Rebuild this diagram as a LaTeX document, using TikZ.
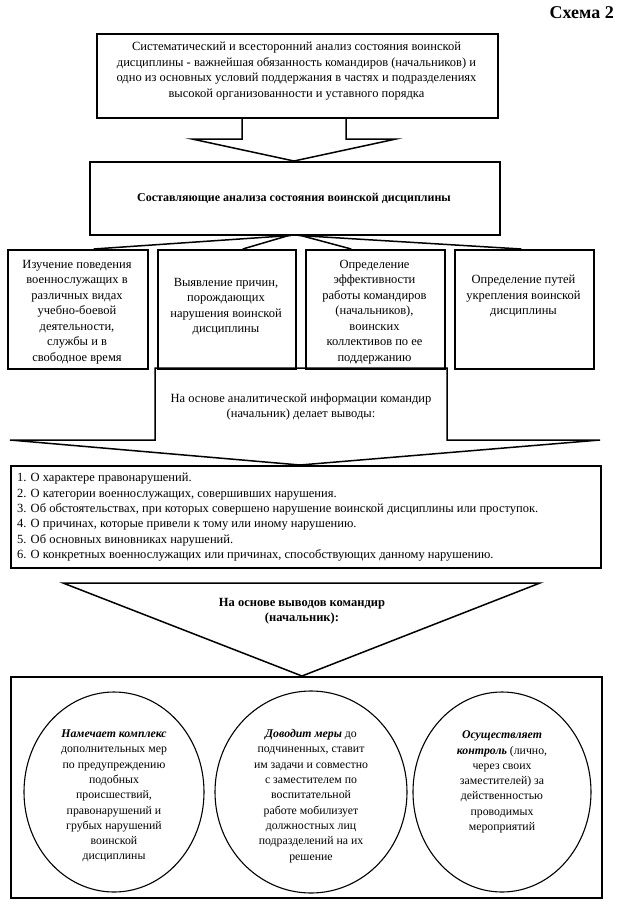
\documentclass[tikz,border=0pt]{standalone}
\usepackage{fontspec}
\setmainfont{Liberation Serif}
\usetikzlibrary{shapes.geometric}
\begin{document}
\begin{tikzpicture}[x=1pt,y=-1pt,
  ln/.style={draw, line width=1.5pt},
  boxnode/.style={ln, rectangle, inner sep=0pt, anchor=north west},
  txt/.style={inner sep=0pt, align=center, font=\fontsize{12.5}{15.5}\selectfont},
  ctxt/.style={inner sep=0pt, align=center, font=\fontsize{11.8}{15.3}\selectfont},
  ltxt/.style={inner sep=0pt, align=left, anchor=north west, font=\fontsize{12.5}{15.4}\selectfont},
  oval/.style={draw, line width=1.1pt, ellipse, inner sep=0pt}]
\useasboundingbox (0,0) rectangle (623,911);
\fill[white] (0,0) rectangle (623,911);

\node[anchor=north east, inner sep=0pt, font=\fontsize{18}{20}\selectfont\bfseries] (title) at (614,6) {Схема 2};

% top box
\node[boxnode, minimum width=401pt, minimum height=84pt] (b1) at (96,33) {};
\node[txt] (t1) at (296.5,71) {Систематический и всесторонний анализ состояния воинской\\
дисциплины - важнейшая обязанность командиров (начальников) и\\
одно из основных условий поддержания в частях и подразделениях\\
высокой организованности и уставного порядка};

% block arrow 1
\draw[ln, line join=miter] (242,117) -- (242,139) -- (192,139) -- (294,161) -- (396,139) -- (346,139) -- (346,117);

% second box
\node[boxnode, minimum width=410pt, minimum height=73pt] (b2) at (89,161) {};
\node[txt, font=\fontsize{12}{15.5}\selectfont\bfseries] (t2) at (294,198) {Составляющие анализа состояния воинской дисциплины};

% four boxes
\node[boxnode, minimum width=140pt, minimum height=119pt] (bA) at (7,249) {};
\node[boxnode, minimum width=138pt, minimum height=119pt] (bB) at (157,249) {};
\node[boxnode, minimum width=139pt, minimum height=119pt] (bC) at (305,249) {};
\node[boxnode, minimum width=139pt, minimum height=119pt] (bD) at (454,249) {};

\node[txt, anchor=north] (tA) at (77,260) {Изучение поведения\\военнослужащих в\\различных видах\\учебно-боевой\\деятельности,\\службы и в\\свободное время};
\node[txt, anchor=north] (tB) at (226,278) {Выявление причин,\\порождающих\\нарушения воинской\\дисциплины};
\node[txt, anchor=north] (tC) at (374.5,260) {Определение\\эффективности\\работы командиров\\(начальников),\\воинских\\коллективов по ее\\поддержанию};
\node[txt, anchor=north] (tD) at (523.5,275) {Определение путей\\укрепления воинской\\дисциплины};

% fan connectors
\draw[ln] ([xshift=-4pt]b2.south) -- ([xshift=16pt]bA.north);
\draw[ln] ([xshift=-6pt]b2.south) -- ([xshift=16pt]bB.north);
\draw[ln] ([xshift=6pt]b2.south) -- ([xshift=-24pt]bC.north);
\draw[ln] ([xshift=4pt]b2.south) -- ([xshift=-3pt]bD.north);

% middle block arrow
\draw[ln, line join=miter] (155,368) -- (155,440) -- (10,440) -- (300,465) -- (600,440) -- (447,440) -- (447,368) -- cycle;
\node[txt] (tm) at (301,407) {На основе аналитической информации командир\\(начальник) делает выводы:};

% list box
\node[boxnode, minimum width=590pt, minimum height=102pt] (bL) at (10,465) {};
\node[ltxt] (tL) at (17,473) {1. О характере правонарушений.\\
2. О категории военнослужащих, совершивших нарушения.\\
3. Об обстоятельствах, при которых совершено нарушение воинской дисциплины или проступок.\\
4. О причинах, которые привели к тому или иному нарушению.\\
5. Об основных виновниках нарушений.\\
6. О конкретных военнослужащих или причинах, способствующих данному нарушению.};

% triangle
\draw[ln, line join=miter] (63,583) -- (540,583) -- (302,676) -- cycle;
\node[txt, font=\fontsize{12.5}{15.5}\selectfont\bfseries] (tT) at (302,611) {На основе выводов командир\\(начальник):};

% bottom box
\node[boxnode, minimum width=591pt, minimum height=221pt] (bF) at (10,676) {};

\node[oval, minimum width=180pt, minimum height=200pt] (c1) at (114,792) {};
\node[oval, minimum width=192pt, minimum height=202pt] (c2) at (311,792) {};
\node[oval, minimum width=178pt, minimum height=200pt] (c3) at (502,792) {};

\node[ctxt] (tc1) at (114,796) {\textbf{\textit{Намечает комплекс}}\\дополнительных мер\\по предупреждению\\подобных\\происшествий,\\правонарушений и\\грубых нарушений\\воинской\\дисциплины};
\node[ctxt] (tc2) at (311,796) {\textbf{\textit{Доводит меры}} до\\подчиненных, ставит\\им задачи и совместно\\с заместителем по\\воспитательной\\работе мобилизует\\должностных лиц\\подразделений на их\\решение};
\node[ctxt] (tc3) at (502,782) {\textbf{\textit{Осуществляет}}\\\textbf{\textit{контроль}} (лично,\\через своих\\заместителей) за\\действенностью\\проводимых\\мероприятий};
\end{tikzpicture}
\end{document}
